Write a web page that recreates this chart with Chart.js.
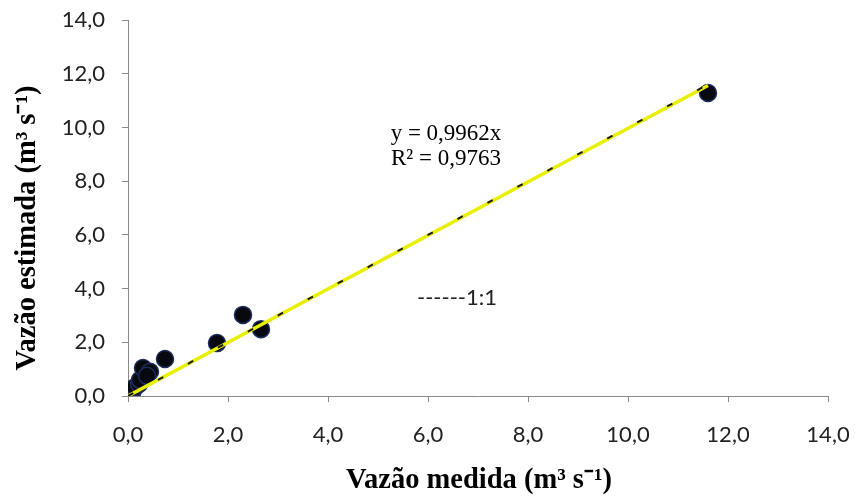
<!DOCTYPE html>
<html><head><meta charset="utf-8">
<script src="https://cdn.jsdelivr.net/npm/chart.js@4"></script>
<style>html,body{margin:0;padding:0;background:#fff}#c{display:block}</style>
</head><body>
<canvas id="c" width="855" height="502"></canvas>
<script>
const measured  = [0.04, 0.08, 0.14, 0.22, 0.24, 0.30, 0.44, 0.38, 0.74, 1.78, 2.30, 2.66, 11.60];
const estimated = [0.05, 0.12, 0.33, 0.45, 0.60, 1.04, 0.90, 0.75, 1.38, 1.97, 3.02, 2.49, 11.28];
const trendX = [0, 11.6];
const trendY = [0, 11.56];
const oneToOneX = [0, 11.6];
const oneToOneY = [0, 11.6];
const tickValues = [0, 2, 4, 6, 8, 10, 12, 14];
const xTitle = 'Vazão medida (m³ s⁻¹)';
const yTitle = 'Vazão estimada (m³ s⁻¹)';
const eqText = ['y = 0,9962x', 'R² = 0,9763'];
const legendText = '------1:1';

const toPts = (xs, ys) => xs.map((x, i) => ({x, y: ys[i]}));

const textPlugin = {
  id: 'texts',
  afterDraw(chart) {
    const ctx = chart.ctx;
    ctx.save();
    ctx.fillStyle = '#000';
    ctx.textAlign = 'center';
    ctx.textBaseline = 'middle';
    ctx.font = '23px "Liberation Serif"';
    ctx.fillText(eqText[0], 446, 134);
    ctx.fillText(eqText[1], 446, 159);
    ctx.fillStyle = '#222';
    ctx.font = '22px Lato';
    ctx.fillText(legendText, 457, 298);
    ctx.fillStyle = '#000';
    ctx.font = 'bold 28.5px "Liberation Serif"';
    ctx.textBaseline = 'alphabetic';
    ctx.fillText(xTitle, 479, 488);
    ctx.translate(35, 228);
    ctx.rotate(-Math.PI / 2);
    ctx.fillText(yTitle, 0, 0);
    ctx.restore();
  }
};

new Chart(document.getElementById('c'), {
  type: 'scatter',
  data: {
    datasets: [
      {
        label: '1:1',
        type: 'line',
        data: toPts(oneToOneX, oneToOneY),
        borderColor: '#1a1a1a',
        borderWidth: 2,
        borderDash: [6, 28],
        pointRadius: 0,
        order: 0
      },
      {
        label: 'Linear',
        type: 'line',
        data: toPts(trendX, trendY),
        borderColor: '#e8f000',
        borderWidth: 3.5,
        pointRadius: 0,
        order: 1
      },
      {
        label: 'Vazão',
        data: toPts(measured, estimated),
        backgroundColor: '#08080f',
        borderColor: '#1c2c5c',
        borderWidth: 1.5,
        pointRadius: 8.5,
        order: 2
      }
    ]
  },
  options: {
    responsive: false,
    animation: false,
    layout: { padding: { top: 20, right: 27, left: 0, bottom: 0 } },
    plugins: { legend: { display: false }, tooltip: { enabled: false } },
    scales: {
      x: {
        type: 'linear', min: 0, max: 14,
        afterBuildTicks: s => { s.ticks = tickValues.map(v => ({value: v})); },
        afterFit: s => { s.height = 106; s.paddingLeft = 0; s.paddingRight = 0; },
        ticks: {
          callback: v => v.toFixed(1).replace('.', ','),
          font: { family: 'Lato', size: 22 }, color: '#222', padding: 20
        },
        grid: { drawOnChartArea: false, tickLength: 6, color: '#8a8a8a' },
        border: { color: '#8a8a8a', width: 1 }
      },
      y: {
        type: 'linear', min: 0, max: 14,
        afterBuildTicks: s => { s.ticks = tickValues.map(v => ({value: v})); },
        afterFit: s => { s.width = 128; s.paddingTop = 0; s.paddingBottom = 0; },
        ticks: {
          callback: v => v.toFixed(1).replace('.', ','),
          font: { family: 'Lato', size: 22 }, color: '#222', padding: 17
        },
        grid: { drawOnChartArea: false, tickLength: 6, color: '#8a8a8a' },
        border: { color: '#8a8a8a', width: 1 }
      }
    }
  },
  plugins: [textPlugin]
});
</script>
</body></html>
